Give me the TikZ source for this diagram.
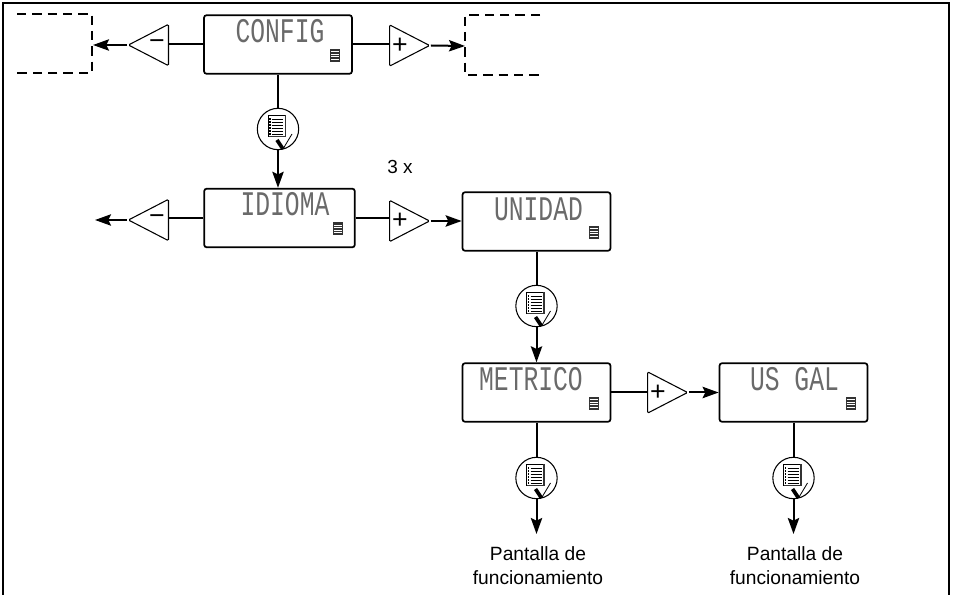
\documentclass[tikz,border=0pt]{standalone}
\usepackage{fontspec}
\setmainfont{Liberation Sans}
\newfontfamily\lcdfont{Liberation Mono}
\usetikzlibrary{arrows.meta,shapes.geometric}
\definecolor{lcdgry}{HTML}{6A6A6A}
\definecolor{icogry}{HTML}{333333}
\tikzset{
 frameline/.style={line width=1.6pt},
 conn/.style={line width=1.5pt},
 connarr/.style={conn,-{Stealth[length=12pt,width=8.5pt,inset=2pt]}},
 dashbox/.style={line width=1.2pt,dash pattern=on 7pt off 4.5pt},
 lcdbox/.style={draw,line width=1.3pt,rounded corners=2pt,minimum width=111pt,minimum height=44pt,inner sep=0pt,
  path picture={
   \begin{scope}[sharp corners]
   \fill[icogry] ([shift={(-22,-12)}]path picture bounding box.south east) rectangle ++(10,-13);
   \foreach \yy in {-15,-17.5,-20,-22.5}
    \draw[white,line width=0.35pt] ([shift={(-21,\yy)}]path picture bounding box.south east) -- ++(8,0);
   \end{scope}
  }},
 lcdtext/.style={font=\lcdfont\fontsize{18.5}{18.5}\selectfont,text=lcdgry,inner sep=0pt,yscale=1.4,transform shape},
 tribox/.style={draw,isosceles triangle,isosceles triangle stretches,shape border rotate=#1,line width=0.8pt,
  rounded corners=1pt,minimum width=31pt,minimum height=30pt,inner sep=0pt,fill=white},
 signtext/.style={font=\fontsize{20}{20}\selectfont,inner sep=0pt},
 menucirc/.style={draw,circle,line width=0.8pt,minimum size=31pt,inner sep=0pt,
  path picture={
   \begin{scope}[shift={(path picture bounding box.center)}]
    \draw[line width=0.6pt] (-10,-14) rectangle (7,7);
    \draw[icogry,line width=1pt] (7.5,-13.5) -- (7.5,7.5) -- (-9.5,7.5);
    \foreach \yy in {-10,-7,-4,-1,2,5} {
     \draw[line width=0.6pt] (-6,\yy) -- (5,\yy);
     \fill (-9,\yy-0.6) rectangle (-7.4,\yy+0.6);
    }
    \draw[line width=2.8pt] (-1,11) -- (5,20);
    \draw[line width=0.6pt] (5,20) -- (14,5);
   \end{scope}
  }},
 footer/.style={font=\fontsize{14.4}{18}\selectfont,align=center,inner xsep=0pt,inner ysep=9.3pt}
}

\begin{document}
\begin{tikzpicture}[x=0.75pt,y=-0.75pt]
 \useasboundingbox (0,0) rectangle (954,595);
 \draw[frameline] (3,595)--(3,3)--(949,3)--(949,595);

 % display boxes
 \node[lcdbox,minimum width=111pt] (config) at (278,44.5) {};
 \node[lcdbox,minimum width=113pt] (idioma) at (279.5,218) {};
 \node[lcdbox] (unidad) at (536.5,221.5) {};
 \node[lcdbox] (metrico) at (536.5,392.5) {};
 \node[lcdbox] (usgal) at (793.5,392.5) {};
 \node[lcdtext] (tconfig) at (280,31.5) {CONFIG};
 \node[lcdtext] (tidioma) at (285,204) {IDIOMA};
 \node[lcdtext] (tunidad) at (538.5,209) {UNIDAD};
 \node[lcdtext] (tmetrico) at (531,379.5) {METRICO};
 \node[lcdtext] (tusgal) at (794.5,379.5) {US GAL};

 % dashed boxes, open on one side
 \draw[dashbox] (17,14)--(92,14)--(92,73)--(17,73);
 \draw[dashbox] (540,15)--(465,15)--(465,75)--(540,75);
 \coordinate (leftend) at (93,45);
 \coordinate (rightend) at (465,46);
 \coordinate (idleft) at (95,220);

 % minus and plus keys
 \node[tribox=180,anchor=lower side] (minus1) at (169,45) {};
 \node[signtext] (sminus1) at (157,45) {−};
 \node[tribox=0,anchor=lower side] (plus1) at (389,45.5) {};
 \node[signtext] (splus1) at (400,46) {+};
 \node[tribox=180,anchor=lower side] (minus2) at (169,220) {};
 \node[signtext] (sminus2) at (157,220) {−};
 \node[tribox=0,anchor=lower side] (plus2) at (389,221) {};
 \node[signtext] (splus2) at (400,221) {+};
 \node[tribox=0,anchor=lower side] (plus3) at (647,392.5) {};
 \node[signtext] (splus3) at (658,392.5) {+};

 % menu keys
 \node[menucirc] (key1) at (278,129) {};
 \node[menucirc] (key2) at (536.5,306) {};
 \node[menucirc] (key3) at (536.5,478) {};
 \node[menucirc] (key4) at (793.5,478) {};

 \node[footer,anchor=north] (pant1) at (538,534) {Pantalla de\\funcionamiento};
 \node[footer,anchor=north] (pant2) at (795,534) {Pantalla de\\funcionamiento};
 \node[font=\fontsize{14.2}{18}\selectfont,inner sep=0pt] (times) at (400,167) {3 x};

 % connectors
 \draw[conn] (config.west) -- (config.west -| minus1.lower side);
 \draw[connarr] (minus1.apex) -- (leftend);
 \draw[conn] (config.east) -- (config.east -| plus1.lower side);
 \draw[connarr] (plus1.apex) -- (rightend);
 \draw[conn] (config.south) -- (key1.north);
 \draw[connarr] (key1.south) -- (key1.south |- idioma.north);
 \draw[conn] (idioma.west) -- (idioma.west -| minus2.lower side);
 \draw[connarr] (minus2.apex) -- (idleft);
 \draw[conn] (idioma.east) -- (idioma.east -| plus2.lower side);
 \draw[connarr] (plus2.apex) -- (plus2.apex -| unidad.west);
 \draw[conn] (unidad.south) -- (key2.north);
 \draw[connarr] (key2.south) -- (metrico.north);
 \draw[conn] (metrico.east) -- (plus3.lower side);
 \draw[connarr] (plus3.apex) -- (usgal.west);
 \draw[conn] (metrico.south) -- (key3.north);
 \draw[connarr] (key3.south) -- (pant1.north -| key3.south);
 \draw[conn] (usgal.south) -- (key4.north);
 \draw[connarr] (key4.south) -- (pant2.north -| key4.south);
\end{tikzpicture}
\end{document}
